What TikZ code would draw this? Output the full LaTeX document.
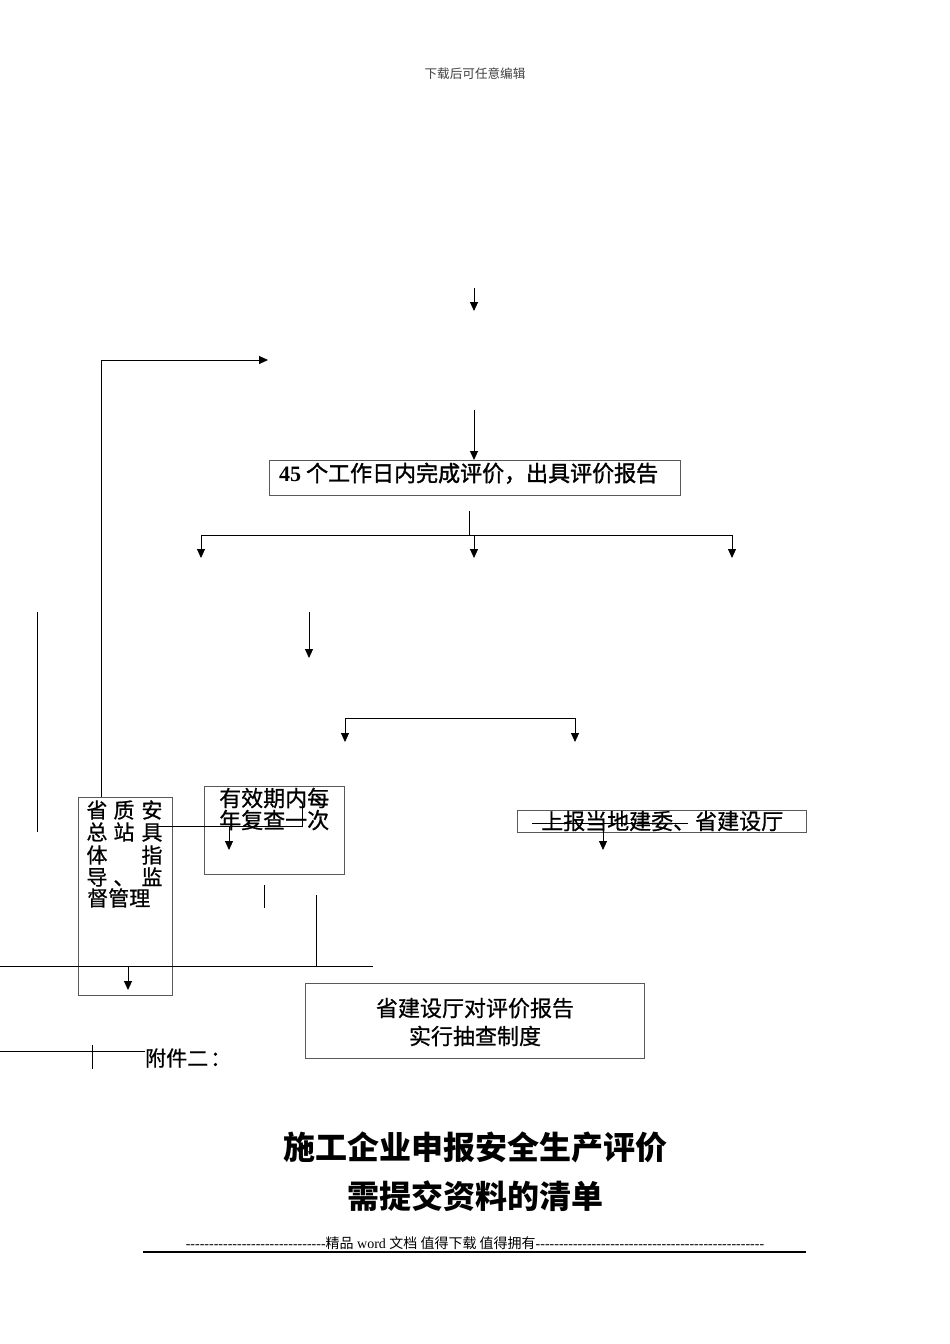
\documentclass[tikz,border=0pt]{standalone}
\usepackage{fontspec}
\setmainfont{Liberation Serif}
\newfontfamily\cjk{Noto Sans CJK SC}
\newfontfamily\cjkm[FakeBold=0.7]{Noto Sans CJK SC}
\newfontfamily\cjkb[FakeBold=1.6]{Noto Sans CJK SC}
\newfontfamily\ftfont{Liberation Serif}
\usetikzlibrary{arrows.meta}
\begin{document}
\begin{tikzpicture}[x=1pt,y=-1pt,
  arr/.style={-{Triangle[width=8pt,length=9pt]}, line width=0.9pt},
  ln/.style={line width=0.9pt},
  boxed/.style={draw=black!65, line width=0.9pt},
  t/.style={inner sep=0pt, anchor=base, font=\cjkm\fontsize{22}{22}\selectfont},
  tw/.style={t, anchor=base west},
  ts/.style={t, font=\cjkm\fontsize{21}{21}\selectfont},
]
\useasboundingbox[fill=white] (0,0) rectangle (950,1344);

% header
\node[inner sep=0pt, anchor=base, font=\cjk\fontsize{12.6}{13}\selectfont, text=black!75] (hdr) at (475,78.8) {下载后可任意编辑};

% boxes
\draw[boxed] (269,460) rectangle (680,495);
\coordinate (b45top) at (474,460);
\draw[boxed] (78,797) rectangle (172,995);
\coordinate (sztop) at (101,797);
\draw[boxed] (204,786) rectangle (344,874);
\draw[boxed] (517,810) rectangle (806,832);
\draw[boxed] (305,983) rectangle (644,1058);

% box texts
\node[tw, font=\cjkb\fontsize{22}{22}\selectfont] (t45) at (279,481.4) {{\ftfont\bfseries 45} 个工作日内完成评价，出具评价报告};
\node[tw] (yx1) at (219,806.4) {有效期内每};
\node[tw] (yx2) at (219,828.4) {年复查一次};
\node[tw] (sb) at (541,829.4) {上报当地建委、省建设厅};
\node[t] (sj1) at (475,1016.4) {省建设厅对评价报告};
\node[t] (sj2) at (475,1044.4) {实行抽查制度};

\node[ts] (s11) at (97,818) {省};
\node[ts] (s12) at (124,818) {质};
\node[ts] (s13) at (152,818) {安};
\node[ts] (s21) at (97,840) {总};
\node[ts] (s22) at (124,840) {站};
\node[ts] (s23) at (152,840) {具};
\node[ts] (s31) at (97,863) {体};
\node[ts] (s33) at (152,863) {指};
\node[ts] (s41) at (97,885) {导};
\node[ts] (s42) at (124,885) {、};
\node[ts] (s43) at (152,885) {监};
\node[ts, anchor=base west] (s5) at (87,906) {督管理};

% arrows and lines
\coordinate (a1s) at (474,288);
\coordinate (a1e) at (474,311);
\draw[arr] (a1s) -- (a1e);

\coordinate (lc) at (101,360);
\coordinate (le) at (268,360);
\draw[arr] (sztop) -- (lc) -- (le);

\coordinate (a2s) at (474,410);
\draw[arr] (a2s) -- (b45top);

\coordinate (f0) at (469,511);
\coordinate (f1) at (469,535);
\draw[ln] (f0) -- (f1);
\coordinate (fl) at (201,535);
\coordinate (fm) at (474,535);
\coordinate (fr) at (732,535);
\draw[ln] (fl) -- (fr);
\coordinate (flE) at (201,558);
\coordinate (fmE) at (474,558);
\coordinate (frE) at (732,558);
\draw[arr] (fl) -- (flE);
\draw[arr] (fm) -- (fmE);
\draw[arr] (fr) -- (frE);

\coordinate (a3s) at (309,612);
\coordinate (a3e) at (309,658);
\draw[arr] (a3s) -- (a3e);

\coordinate (bl) at (345,718);
\coordinate (br) at (575,718);
\coordinate (blE) at (345,742);
\coordinate (brE) at (575,742);
\draw[ln] (bl) -- (br);
\draw[arr] (bl) -- (blE);
\draw[arr] (br) -- (brE);

\coordinate (v1s) at (37,612);
\coordinate (v1e) at (37,832);
\draw[ln] (v1s) -- (v1e);

\coordinate (h1s) at (157,826);
\coordinate (h1m) at (302,826);
\coordinate (h1e) at (302,803);
\draw[ln] (h1s) -- (h1m) -- (h1e);
\coordinate (a4s) at (229,826);
\coordinate (a4e) at (229,850);
\draw[arr] (a4s) -- (a4e);

\coordinate (v2s) at (264,885);
\coordinate (v2e) at (264,908);
\draw[ln] (v2s) -- (v2e);
\coordinate (v3s) at (316,895);
\coordinate (v3e) at (316,966);
\draw[ln] (v3s) -- (v3e);
\coordinate (h2s) at (0,966);
\coordinate (h2e) at (373,966);
\draw[ln] (h2s) -- (h2e);
\coordinate (a5s) at (128,966);
\coordinate (a5e) at (128,990);
\draw[arr] (a5s) -- (a5e);

\coordinate (st1) at (532,823);
\coordinate (st2) at (688,823);
\draw[ln] (st1) -- (st2);
\coordinate (a6s) at (603,823);
\coordinate (a6e) at (603,850);
\draw[arr] (a6s) -- (a6e);

\coordinate (h3s) at (0,1051);
\coordinate (h3e) at (145,1051);
\draw[ln] (h3s) -- (h3e);
\coordinate (v4s) at (92,1045);
\coordinate (v4e) at (92,1069);
\draw[ln] (v4s) -- (v4e);

\node[ts, anchor=base west] (fj) at (145,1066) {附件二\hspace{2pt}：};

% title
\node[inner sep=0pt, anchor=base, font=\cjk\bfseries\fontsize{32}{32}\selectfont] (ti1) at (475,1159) {施工企业申报安全生产评价};
\node[inner sep=0pt, anchor=base, font=\cjk\bfseries\fontsize{32}{32}\selectfont] (ti2) at (475,1208) {需提交资料的清单};

% footer
\node[inner sep=0pt, anchor=base, font=\ftfont\fontsize{14}{14}\selectfont] (ft) at (475,1248) {------------------------------{\cjk 精品} word {\cjk 文档 值得下载 值得拥有}-------------------------------------------------};
\coordinate (fls) at (143,1252);
\coordinate (fle) at (806,1252);
\draw[line width=1.5pt] (fls) -- (fle);
\end{tikzpicture}
\end{document}
